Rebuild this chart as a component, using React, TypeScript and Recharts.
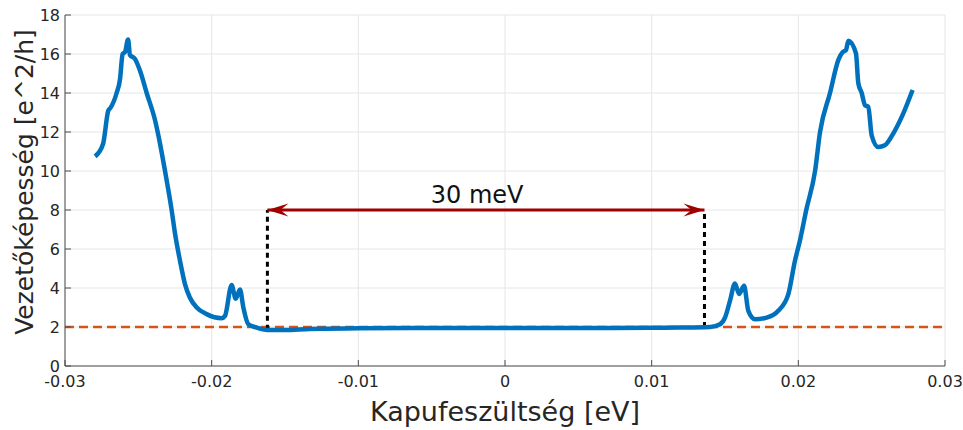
import { LineChart, Line, XAxis, YAxis, CartesianGrid, ReferenceLine, ReferenceDot } from "recharts";

// gate voltage [eV] and conductance [e^2/h]
const gateV = [
  -0.02795, -0.0274, -0.02705, -0.02689, -0.02648, -0.02625, -0.02607, -0.02591, -0.0257, -0.02557,
  -0.02523, -0.02489, -0.02443, -0.02386, -0.02352, -0.02318, -0.02273, -0.0225, -0.02216, -0.02182,
  -0.02148, -0.02102, -0.02034, -0.01932, -0.01909, -0.01864, -0.01836, -0.01807, -0.01784, -0.0175,
  -0.01693, -0.01602, -0.015, -0.0133, -0.01, -0.005, 0, 0.005, 0.01, 0.0119,
  0.014, 0.01466, 0.015, 0.01534, 0.01568, 0.01596, 0.0163, 0.01659, 0.01705, 0.01784,
  0.01863, 0.01932, 0.01977, 0.02011, 0.02054, 0.02114, 0.02148, 0.02216, 0.02273, 0.02303,
  0.02325, 0.02341, 0.02393, 0.02409, 0.02432, 0.02455, 0.02477, 0.025, 0.02545, 0.0259,
  0.02647, 0.02715, 0.02779,
];
const conductance = [
  10.75, 11.4, 13.1, 13.25, 14.0, 14.7, 16.0, 16.1, 16.75, 15.95,
  15.75, 15.15, 14.0, 12.6, 11.4, 10.0, 8.0, 6.8, 5.4, 4.2,
  3.5, 3.0, 2.66, 2.45, 2.57, 4.15, 3.45, 3.92, 3.0, 2.14,
  1.97, 1.84, 1.84, 1.9, 1.93, 1.95, 1.95, 1.95, 1.96, 1.97,
  2.0, 2.14, 2.48, 3.34, 4.23, 3.69, 4.11, 2.83, 2.4, 2.48,
  2.83, 3.69, 5.4, 6.43, 8.0, 10.0, 12.0, 14.0, 15.7, 16.1,
  16.2, 16.68, 16.03, 14.5, 14.0, 13.37, 13.3, 11.83, 11.23, 11.32,
  11.92, 12.94, 14.15,
];

const baselineLevel = 2;
const gapEdges = [-0.0162, 0.0136];
const gapEdgeBottoms = [1.86, 2.0];
const arrowLevel = 8;
const gapLabel = "30 meV";
const gapLabelPos = { x: -0.0019, y: 8.82 };

const xTicks = [-0.03, -0.02, -0.01, 0, 0.01, 0.02, 0.03];
const yTicks = [0, 2, 4, 6, 8, 10, 12, 14, 16, 18];

const FONT = "'DejaVu Sans', sans-serif";
const AXIS_COLOR = "#4d4d4d";
const TEXT_COLOR = "#262626";

const curveData = gateV.map((x, i) => ({ x, y: conductance[i] }));
const baselineData = [
  { x: xTicks[0], y: baselineLevel },
  { x: xTicks[xTicks.length - 1], y: baselineLevel },
];
const arrowData = gapEdges.map((x) => ({ x, y: arrowLevel }));

// MATLAB-ish swept-back arrowhead at both ends of the gap marker
const ArrowHead = (props: any) => {
  const { cx, cy, index } = props;
  if (cx == null || cy == null) return <g />;
  const d = index === 0 ? 1 : -1;
  const pts = [
    [cx, cy],
    [cx + d * 21, cy - 6.5],
    [cx + d * 13, cy],
    [cx + d * 21, cy + 6.5],
  ]
    .map((p) => p.join(","))
    .join(" ");
  return <polygon key={`ah-${index}`} points={pts} fill="#a00000" stroke="none" />;
};

const YLabel = (props: any) => {
  const vb = props.viewBox || { x: 5, y: 15, width: 60, height: 351 };
  const cx = 24;
  const cy = vb.y + vb.height / 2 - 8.5;
  return (
    <text
      x={cx}
      y={cy}
      transform={`rotate(-90, ${cx}, ${cy})`}
      textAnchor="middle"
      dominantBaseline="central"
      fontSize={25}
      fontFamily={FONT}
      fill={TEXT_COLOR}
    >
      Vezetőképesség [e^2/h]
    </text>
  );
};

export default function App() {
  return (
    <div style={{ position: "absolute", left: 0, top: 0, background: "#fff" }}>
      <LineChart
        width={963}
        height={430}
        margin={{ top: 15, right: 18, bottom: 0, left: 5 }}
        style={{ fontFamily: FONT }}
      >
        <CartesianGrid xAxisId="b" yAxisId="l" stroke="#e6e6e6" strokeWidth={1} />
        <XAxis
          xAxisId="b"
          dataKey="x"
          type="number"
          domain={[-0.03, 0.03]}
          ticks={xTicks}
          interval={0}
          allowDataOverflow
          height={64}
          tickSize={-6}
          tickMargin={16}
          axisLine={{ stroke: AXIS_COLOR }}
          tickLine={{ stroke: AXIS_COLOR }}
          tick={{ fill: TEXT_COLOR, fontSize: 16, fontFamily: FONT }}
          label={{
            value: "Kapufeszültség [eV]",
            position: "insideBottom",
            offset: 9,
            fontSize: 27,
            fill: TEXT_COLOR,
            fontFamily: FONT,
          }}
        />
        <XAxis
          xAxisId="t"
          orientation="top"
          dataKey="x"
          type="number"
          domain={[-0.03, 0.03]}
          ticks={xTicks}
          interval={0}
          allowDataOverflow
          height={0}
          tickSize={-6}
          tick={false}
          axisLine={{ stroke: AXIS_COLOR }}
          tickLine={{ stroke: AXIS_COLOR }}
        />
        <YAxis
          yAxisId="l"
          type="number"
          domain={[0, 18]}
          ticks={yTicks}
          interval={0}
          allowDataOverflow
          width={60}
          tickSize={-6}
          tickMargin={11}
          axisLine={{ stroke: AXIS_COLOR }}
          tickLine={{ stroke: AXIS_COLOR }}
          tick={{ fill: TEXT_COLOR, fontSize: 16, fontFamily: FONT }}
          label={<YLabel />}
        />
        <YAxis
          yAxisId="r"
          orientation="right"
          type="number"
          domain={[0, 18]}
          ticks={yTicks}
          interval={0}
          allowDataOverflow
          width={0}
          tickSize={-6}
          tick={false}
          axisLine={{ stroke: AXIS_COLOR }}
          tickLine={{ stroke: AXIS_COLOR }}
        />

        <Line
          xAxisId="b"
          yAxisId="l"
          data={baselineData}
          dataKey="y"
          type="linear"
          stroke="#d95319"
          strokeWidth={2.5}
          strokeDasharray="9 5"
          dot={false}
          activeDot={false}
          isAnimationActive={false}
        />
        {gapEdges.map((x, i) => (
          <ReferenceLine
            key={`edge-${i}`}
            xAxisId="b"
            yAxisId="l"
            segment={[
              { x, y: gapEdgeBottoms[i] },
              { x, y: arrowLevel },
            ]}
            stroke="#000"
            strokeWidth={3}
            strokeDasharray="5 4"
          />
        ))}
        <Line
          xAxisId="b"
          yAxisId="l"
          data={curveData}
          dataKey="y"
          type="monotone"
          stroke="#0072bd"
          strokeWidth={4.5}
          dot={false}
          activeDot={false}
          isAnimationActive={false}
        />
        <Line
          xAxisId="b"
          yAxisId="l"
          data={arrowData}
          dataKey="y"
          type="linear"
          stroke="#a00000"
          strokeWidth={3}
          dot={<ArrowHead />}
          activeDot={false}
          isAnimationActive={false}
        />
        <ReferenceDot
          xAxisId="b"
          yAxisId="l"
          x={gapLabelPos.x}
          y={gapLabelPos.y}
          r={0}
          stroke="none"
          fill="none"
          label={{ value: gapLabel, position: "center", fontSize: 24, fill: "#111", fontFamily: FONT }}
        />
      </LineChart>
    </div>
  );
}
